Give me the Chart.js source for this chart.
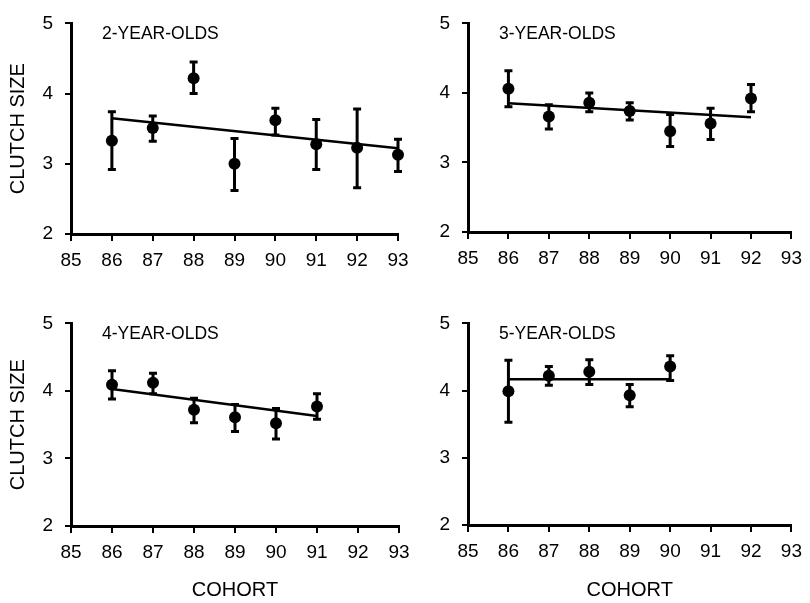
<!DOCTYPE html>
<html>
<head>
<meta charset="utf-8">
<script src="https://cdn.jsdelivr.net/npm/chart.js@4"></script>
<style>
  body { margin: 0; background: #fff; }
  #wrap { position: relative; width: 810px; height: 603px; overflow: hidden; }
  canvas { position: absolute; }
</style>
</head>
<body>
<div id="wrap">
  <canvas id="p2" width="420" height="300" style="left:0;top:0"></canvas>
  <canvas id="p3" width="405" height="300" style="left:405px;top:0"></canvas>
  <canvas id="p4" width="420" height="303" style="left:0;top:300px"></canvas>
  <canvas id="p5" width="405" height="303" style="left:405px;top:300px"></canvas>
</div>
<script>
// cohorts (x) shared by all panels
const cohorts = [86, 87, 88, 89, 90, 91, 92, 93];
const xTicks = [85, 93];   // x axis range
const yTicks = [2, 5];     // y axis range

// 2-year-olds
const mean2 = [3.33, 3.51, 4.22, 3.00, 3.62, 3.28, 3.23, 3.13];
const high2 = [3.74, 3.68, 4.45, 3.36, 3.79, 3.63, 3.78, 3.35];
const low2  = [2.92, 3.32, 4.00, 2.62, 3.41, 2.92, 2.66, 2.89];
const trend2 = [3.65, 3.22];

// 3-year-olds
const mean3 = [4.06, 3.66, 3.86, 3.74, 3.45, 3.56, 3.92];
const high3 = [4.32, 3.83, 4.00, 3.86, 3.69, 3.78, 4.12];
const low3  = [3.80, 3.48, 3.73, 3.61, 3.23, 3.33, 3.73];
const trend3 = [3.85, 3.65];

// 4-year-olds
const mean4 = [4.09, 4.12, 3.72, 3.61, 3.52, 3.77];
const high4 = [4.30, 4.26, 3.89, 3.80, 3.74, 3.96];
const low4  = [3.88, 3.96, 3.53, 3.40, 3.29, 3.58];
const trend4 = [4.03, 3.63];

// 5-year-olds
const mean5 = [3.99, 4.22, 4.28, 3.93, 4.36];
const high5 = [4.45, 4.36, 4.46, 4.09, 4.52];
const low5  = [3.53, 4.08, 4.09, 3.76, 4.15];
const trend5 = [4.17, 4.17];

const FONT = "'Liberation Sans', Arial, sans-serif";

const errorBars = {
  id: "errorBars",
  beforeDatasetsDraw(chart, args, opts) {
    const { ctx, scales } = chart;
    ctx.save();
    ctx.strokeStyle = "#000";
    ctx.lineWidth = 3;
    opts.xs.forEach((xv, i) => {
      const x = scales.x.getPixelForValue(xv);
      const yl = scales.y.getPixelForValue(opts.low[i]);
      const yh = scales.y.getPixelForValue(opts.high[i]);
      ctx.beginPath();
      ctx.moveTo(x, yl); ctx.lineTo(x, yh);
      ctx.moveTo(x - 4, yl); ctx.lineTo(x + 4, yl);
      ctx.moveTo(x - 4, yh); ctx.lineTo(x + 4, yh);
      ctx.stroke();
    });
    ctx.restore();
  },
};

const panelLabel = {
  id: "panelLabel",
  afterDraw(chart, args, opts) {
    const { ctx, chartArea } = chart;
    ctx.save();
    ctx.fillStyle = "#000";
    ctx.font = "17.5px " + FONT;
    ctx.textBaseline = "alphabetic";
    ctx.fillText(opts.text, chartArea.left + 31, chartArea.top + 16);
    ctx.restore();
  },
};

function makePanel(id, label, mean, low, high, trend, layout) {
  const xs = cohorts.slice(0, mean.length);
  new Chart(document.getElementById(id).getContext("2d"), {
    type: "scatter",
    data: {
      datasets: [
        {
          data: xs.map((x, i) => ({ x: x, y: mean[i] })),
          backgroundColor: "#000",
          borderWidth: 0,
          pointRadius: 6,
          clip: false,
        },
        {
          type: "line",
          data: [
            { x: xs[0], y: trend[0] },
            { x: xs[xs.length - 1], y: trend[1] },
          ],
          borderColor: "#000",
          borderWidth: 2.5,
          pointRadius: 0,
          clip: false,
        },
      ],
    },
    options: {
      responsive: false,
      animation: false,
      devicePixelRatio: 1,
      layout: {
        autoPadding: false,
        padding: { top: layout.top, right: layout.right, left: 0, bottom: 0 },
      },
      plugins: {
        legend: { display: false },
        tooltip: { enabled: false },
        errorBars: { xs: xs, low: low, high: high },
        panelLabel: { text: label },
      },
      scales: {
        x: {
          type: "linear",
          min: xTicks[0],
          max: xTicks[1],
          afterFit: (s) => { s.height = layout.xh; },
          border: { display: true, color: "#000", width: 3 },
          grid: { drawOnChartArea: false, drawTicks: true, tickLength: 7, color: "#000", lineWidth: 2 },
          ticks: { stepSize: 1, color: "#000", padding: 8, font: { family: FONT, size: 19 } },
          title: {
            display: layout.xTitle,
            text: "COHORT",
            color: "#000",
            font: { family: FONT, size: 20 },
            padding: { top: 0, bottom: 1 },
          },
        },
        y: {
          min: yTicks[0],
          max: yTicks[1],
          afterFit: (s) => { s.width = layout.yw; },
          border: { display: true, color: "#000", width: 3 },
          grid: { drawOnChartArea: false, drawTicks: true, tickLength: 6, color: "#000", lineWidth: 2 },
          ticks: { stepSize: 1, color: "#000", padding: 12, font: { family: FONT, size: 19 } },
          title: {
            display: layout.yTitle,
            text: "CLUTCH SIZE",
            color: "#000",
            font: { family: FONT, size: 20 },
            padding: { top: 6.5, bottom: 0 },
          },
        },
      },
    },
    plugins: [errorBars, panelLabel],
  });
}

makePanel("p2", "2-YEAR-OLDS", mean2, low2, high2, trend2,
  { top: 16, right: 22, xh: 66, yw: 71, yTitle: true, xTitle: false });
makePanel("p3", "3-YEAR-OLDS", mean3, low3, high3, trend3,
  { top: 15, right: 12, xh: 68, yw: 63, yTitle: false, xTitle: false });
makePanel("p4", "4-YEAR-OLDS", mean4, low4, high4, trend4,
  { top: 7, right: 21, xh: 77, yw: 71, yTitle: true, xTitle: true });
makePanel("p5", "5-YEAR-OLDS", mean5, low5, high5, trend5,
  { top: 7, right: 12, xh: 78, yw: 63, yTitle: false, xTitle: true });
</script>
</body>
</html>
